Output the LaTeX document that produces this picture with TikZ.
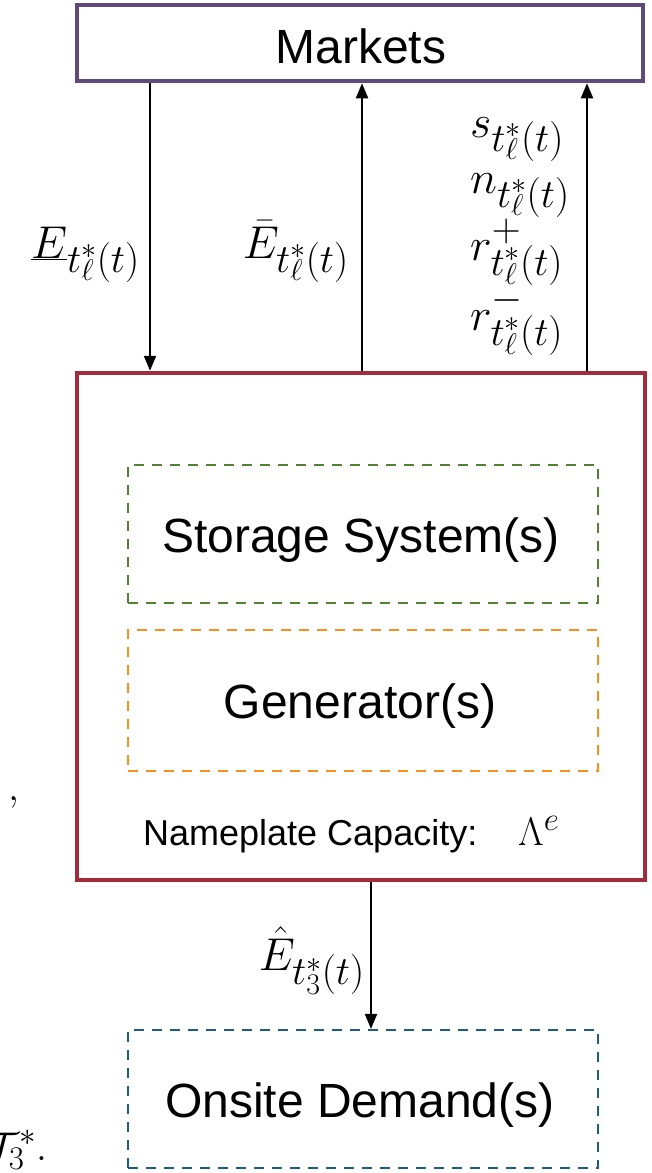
\RequirePackage{fix-cm}
\documentclass[tikz,border=0pt]{standalone}
\usepackage{fontspec}
\setmainfont{Liberation Sans}
\usetikzlibrary{arrows.meta}
\DeclareMathSizes{40}{40}{33}{24}
\DeclareMathSizes{46}{46}{40}{30}
\definecolor{mktpurple}{HTML}{604A7B}
\definecolor{mainred}{HTML}{A22B3D}
\definecolor{stgreen}{HTML}{548235}
\definecolor{genorange}{HTML}{F5901A}
\definecolor{dmdblue}{HTML}{1F5C85}
\tikzset{
  solidbox/.style={draw, rectangle, line width=4.5pt, inner sep=0pt},
  dashbox/.style={draw, rectangle, line width=2.2pt, dash pattern=on 10pt off 8pt, inner sep=0pt},
  boxtext/.style={inner sep=0pt, font=\fontsize{48}{54}\selectfont},
  arr/.style={line width=2pt, -{Triangle[length=15pt,width=12pt]}},
  lbl/.style={inner sep=0pt, font=\fontsize{46}{52}\selectfont},
  sml/.style={inner sep=0pt, font=\fontsize{40}{46}\selectfont},
}
\begin{document}
\begin{tikzpicture}[x=1pt,y=-1pt]
\useasboundingbox (0,0) rectangle (652,1173);
\clip (0,0) rectangle (652,1173);
% boxes
\node[solidbox, draw=mktpurple, minimum width=566pt, minimum height=76pt] (markets) at (360,43) {};
\node[boxtext] (mkttext) at (361,46) {Markets};
\node[solidbox, draw=mainred, minimum width=568pt, minimum height=507pt] (main) at (361,626.5) {};
\node[dashbox, draw=stgreen, minimum width=470pt, minimum height=138pt] (storage) at (363,534) {};
\node[boxtext] (sttext) at (361,540) {Storage System(s)};
\node[dashbox, draw=genorange, minimum width=470pt, minimum height=141pt] (gen) at (363,700.5) {};
\node[boxtext] (gentext) at (360,706) {Generator(s)};
\node[dashbox, draw=dmdblue, minimum width=470pt, minimum height=138pt] (demand) at (363,1099) {};
\node[boxtext] (dmdtext) at (360,1105) {Onsite Demand(s)};
\node[inner sep=0pt, anchor=base west, font=\fontsize{36}{42}\selectfont] (cap) at (143,845) {Nameplate Capacity:};
\node[sml, anchor=base west] (lambda) at (518,845) {$\Lambda^{e}$};
% arrow columns
\coordinate (c1) at (150,0);
\coordinate (c2) at (362,0);
\coordinate (c3) at (587,0);
\coordinate (c4) at (371,0);
\draw[arr] (c1 |- markets.south) -- (c1 |- main.north);
\draw[arr] (c2 |- main.north) -- (c2 |- markets.south);
\draw[arr] (c3 |- main.north) -- (c3 |- markets.south);
\draw[arr] (c4 |- main.south) -- (c4 |- demand.north);
% labels
\node[lbl, anchor=base east] (lEmin) at (140,258) {$\underline{E}_{t^*_\ell(t)}$};
\node[lbl, anchor=base east] (lEmax) at (349,258) {$\bar{E}_{t^*_\ell(t)}$};
\node[lbl, anchor=base west] (ls) at (470,137) {$s_{t^*_\ell(t)}$};
\node[lbl, anchor=base west] (ln) at (470,193) {$n_{t^*_\ell(t)}$};
\node[lbl, anchor=base west] (lrp) at (470,260) {$r^{+}_{t^*_\ell(t)}$};
\node[lbl, anchor=base west] (lrm) at (470,330) {$r^{-}_{t^*_\ell(t)}$};
\node[lbl, anchor=base east] (lEhat) at (365,970) {$\hat{E}_{t^*_3(t)}$};
% stray fragments at the left edge
\node[sml, anchor=base west] (comma) at (8,800) {$,$};
\node[sml, anchor=base west] (tset) at (-13,1160) {$\mathcal{T}_3^*.$};
\end{tikzpicture}
\end{document}
